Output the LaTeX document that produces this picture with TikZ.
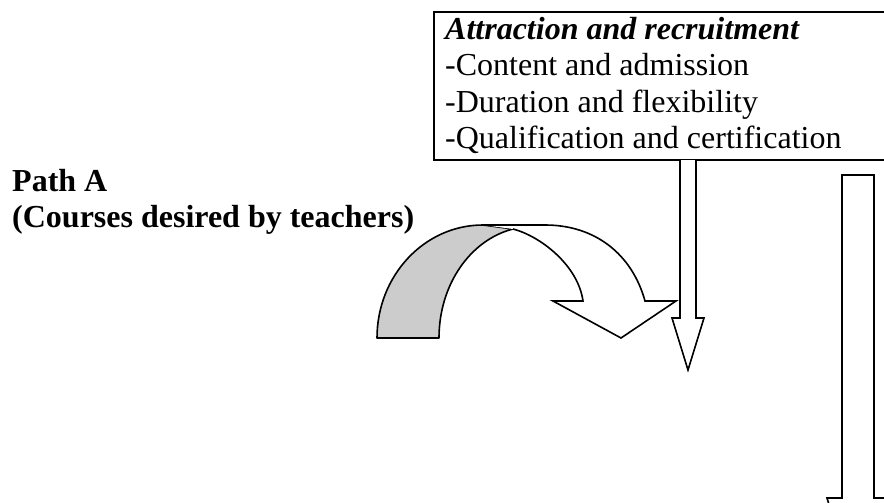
\documentclass[tikz,border=0pt]{standalone}
\usepackage{fontspec}
\setmainfont{Liberation Serif}
\usepackage{tikz}
\usetikzlibrary{positioning}
\tikzset{frame/.style={rectangle,draw=black,line width=2.2pt,anchor=north west}}
\tikzset{listtext/.style={anchor=north west,align=left,inner sep=0pt,font=\fontsize{32}{36.3}\selectfont}}
\tikzset{pathtext/.style={anchor=north west,align=left,inner sep=0pt,font=\fontsize{32}{36}\selectfont\bfseries}}
\tikzset{blockarrow/.style={draw=black,line width=1.6pt,fill=white,line join=miter}}
\tikzset{backband/.style={draw=black,line width=1.6pt,fill=black!20,line join=round}}

\begin{document}
\begin{tikzpicture}[x=1pt,y=-1pt]
\clip (0,0) rectangle (884,503);

\node[frame, minimum width=480pt, minimum height=148pt] (recruit) at (433,11) {};
\node[listtext] (recruittext) at (445,17) {\textbf{\textit{Attraction and recruitment}}\\-Content and admission\\-Duration and flexibility\\-Qualification and certification};
\node[pathtext] (pathA) at (12,169) {Path A\\(Courses desired by teachers)};

% curved arrow, shaded back part first
\draw[backband] (377,338) .. controls (377,276) and (424,225) .. (483,225) -- (513,229)
  .. controls (470,240) and (439,285) .. (439,338) -- cycle;
\draw[blockarrow] (513,229) .. controls (540,236) and (578,265) .. (583,301) -- (553,301)
  -- (621,338) -- (676,301) -- (645,301) .. controls (632,254) and (595,225) .. (545,225) -- (483,225);

% straight arrows
\draw[blockarrow] (680,160) -- (680,318) -- (672,318) -- (688,370) -- (704,318) -- (696,318) -- (696,160);
\draw[blockarrow] (842,175) -- (842,498) -- (827,498) -- (858,598) -- (889,498) -- (874,498) -- (874,175) -- cycle;
\end{tikzpicture}
\end{document}
